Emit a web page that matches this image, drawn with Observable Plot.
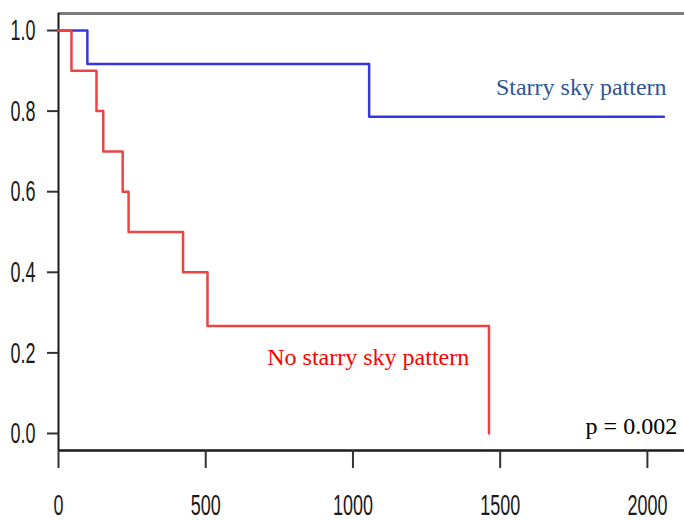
<!DOCTYPE html>
<html><head><meta charset="utf-8">
<script src="https://cdn.jsdelivr.net/npm/d3@7"></script>
<script src="https://cdn.jsdelivr.net/npm/@observablehq/plot@0.6"></script>
<style>html,body{margin:0;padding:0;background:#fff} svg{display:block}</style>
</head><body><div id="chart"></div>
<script>
// Kaplan–Meier step data (days, survival proportion)
const starryDays = [0, 98, 1055, 2056];
const starrySurv = [1, 0.917, 0.786, 0.786];
const noStarryDays = [0, 44, 129, 152, 218, 238, 423, 506, 1462];
const noStarrySurv = [1, 0.9, 0.8, 0.7, 0.6, 0.5, 0.4, 0.267, 0];
const xTicks = [0, 500, 1000, 1500, 2000];
const yTicks = [0, 0.2, 0.4, 0.6, 0.8, 1.0];
const seriesNames = ["Starry sky pattern", "No starry sky pattern"];
const pText = "p = 0.002";
const xDomain = [0, 2126];
const yDomain = [-0.0422, 1.0422];

const starry = starryDays.map((d, i) => ({day: d, surv: starrySurv[i]}));
const noStarry = noStarryDays.map((d, i) => ({day: d, surv: noStarrySurv[i]}));

const tickFont = "'Liberation Sans', Arial, sans-serif";
const serif = "'Liberation Serif', 'Times New Roman', serif";

const chart = Plot.plot({
  width: 684,
  height: 520,
  marginLeft: 58,
  marginRight: 0,
  marginTop: 13,
  marginBottom: 70,
  x: {domain: xDomain, label: null},
  y: {domain: yDomain, label: null},
  marks: [
    Plot.ruleY([yDomain[1]], {stroke: "#7d7d7d", strokeWidth: 3}),
    Plot.ruleX([xDomain[0]], {stroke: "#1a1a1a", strokeWidth: 2}),
    Plot.ruleY([yDomain[0]], {stroke: "#1a1a1a", strokeWidth: 2.5}),
    Plot.axisX(xTicks, {label: null, tickSize: 18, tickPadding: 25, fontSize: 30, fontFamily: tickFont, stroke: "#333", strokeWidth: 2, fill: "#1a1a1a", tickFormat: d => String(d)}),
    Plot.axisY(yTicks, {label: null, tickSize: 11, tickPadding: 12, fontSize: 30, fontFamily: tickFont, stroke: "#333", strokeWidth: 2, fill: "#1a1a1a", tickFormat: d => d.toFixed(1)}),
    Plot.line(starry, {x: "day", y: "surv", curve: "step-after", stroke: "#3636e0", strokeWidth: 2.5}),
    Plot.line(noStarry, {x: "day", y: "surv", curve: "step-after", stroke: "#ea4444", strokeWidth: 2.5}),
    Plot.text([seriesNames[0]], {x: 2065, y: 0.859, text: d => d, textAnchor: "end", fill: "#2f5597", fontSize: 24, fontFamily: serif}),
    Plot.text([seriesNames[1]], {x: 709, y: 0.188, text: d => d, textAnchor: "start", fill: "#ff0000", fontSize: 24, fontFamily: serif}),
    Plot.text([pText], {x: 2101, y: 0.019, text: d => d, textAnchor: "end", fill: "#000", fontSize: 24, fontFamily: serif})
  ]
});

// condense the tick-label glyphs horizontally, as in the reference
d3.select(chart).selectAll("g[aria-label$='tick label'] text").each(function() {
  const t = this.getAttribute("transform") || "";
  this.setAttribute("transform", t + " scale(0.6,1)");
});

document.getElementById("chart").appendChild(chart);
</script>
</body></html>
